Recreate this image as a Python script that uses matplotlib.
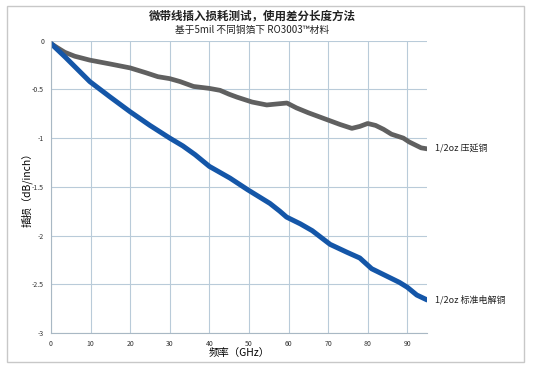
import matplotlib
matplotlib.use("Agg")
import matplotlib.pyplot as plt
from matplotlib.patches import Rectangle

plt.rcParams['font.family'] = ['Noto Sans CJK SC', 'DejaVu Sans']

# 1/2oz rolled copper (gray)
rolled_f = [0, 1.5, 3.5, 6, 9.8, 15, 20, 24, 27, 30, 32.6, 36, 40, 42.7, 45, 47, 50.8, 54.5, 57, 59.6,
            62, 65, 70, 73, 76, 78, 80, 82, 84, 86, 89, 90.5, 92, 93.5, 95]
rolled_loss = [-0.03, -0.07, -0.12, -0.16, -0.20, -0.24, -0.28, -0.33, -0.37, -0.39, -0.42, -0.47, -0.49,
               -0.51, -0.55, -0.58, -0.63, -0.66, -0.65, -0.64, -0.69, -0.74, -0.815, -0.86, -0.90,
               -0.88, -0.85, -0.87, -0.91, -0.96, -1.0, -1.04, -1.07, -1.10, -1.11]

# 1/2oz standard ED copper (blue)
ed_f = [0, 3.5, 9.8, 15, 20, 25, 30, 33.3, 36.4, 40, 45.2, 49.7, 55.3, 57.8, 59.5, 63, 66, 70.5, 74.7,
        78, 81, 85, 88, 90, 92.4, 95]
ed_loss = [-0.03, -0.165, -0.42, -0.58, -0.73, -0.87, -1.0, -1.08, -1.17, -1.29, -1.41, -1.53, -1.67,
           -1.75, -1.81, -1.88, -1.95, -2.09, -2.17, -2.23, -2.34, -2.42, -2.48, -2.53, -2.61, -2.66]

xticks = [0, 10, 20, 30, 40, 50, 60, 70, 80, 90]
yticks = [0, -0.5, -1, -1.5, -2, -2.5, -3]
ytick_labels = ["0", "-0.5", "-1", "-1.5", "-2", "-2.5", "-3"]

fig = plt.figure(figsize=(5.35, 3.66), dpi=100)
ax = fig.add_axes([0.0953, 0.090, 0.703, 0.799])

ax.plot(rolled_f, rolled_loss, color="#606060", lw=3.4, solid_capstyle="round", solid_joinstyle="round")
ax.plot(ed_f, ed_loss, color="#1456a8", lw=3.6, solid_capstyle="round", solid_joinstyle="round")

ax.set_xlim(0, 95)
ax.set_ylim(-3, 0)
ax.set_xticks(xticks)
ax.set_yticks(yticks)
ax.set_yticklabels(ytick_labels)
ax.tick_params(length=0, labelsize=5, colors="#333333", pad=5)
ax.grid(True, color="#b9cbd9", lw=0.8)
ax.set_axisbelow(True)
for s in ["top", "right"]:
    ax.spines[s].set_visible(False)
for s in ["left", "bottom"]:
    ax.spines[s].set_color("#a9b8c4")

ax.set_xlabel("频率（GHz）", fontsize=7.5, va="center")
ax.set_ylabel("插损（dB/inch）", fontsize=7.5, va="center")
ax.xaxis.set_label_coords(0.5, -0.068)
ax.yaxis.set_label_coords(-0.064, 0.5)

ax.annotate("1/2oz 压延铜", xy=(rolled_f[-1], rolled_loss[-1]), xytext=(6, 0),
            textcoords="offset points", fontsize=6.5, va="center", color="#222222",
            fontweight="medium", annotation_clip=False)
ax.annotate("1/2oz 标准电解铜", xy=(ed_f[-1], ed_loss[-1]), xytext=(6, 0),
            textcoords="offset points", fontsize=6.5, va="center", color="#222222",
            fontweight="medium", annotation_clip=False)

fig.text(0.471, 0.957, "微带线插入损耗测试，使用差分长度方法", ha="center", va="center",
         fontsize=8.3, fontweight="bold", color="#222222")
fig.text(0.471, 0.918, "基于5mil 不同铜箔下 RO3003™材料", ha="center", va="center",
         fontsize=7, color="#222222")

fig.patches.append(Rectangle((7 / 535, 1 - 362 / 366), 517 / 535, 356 / 366,
                             transform=fig.transFigure, fill=False, ec="#c8c8c8", lw=1))

fig.savefig("out.png", dpi=100)
